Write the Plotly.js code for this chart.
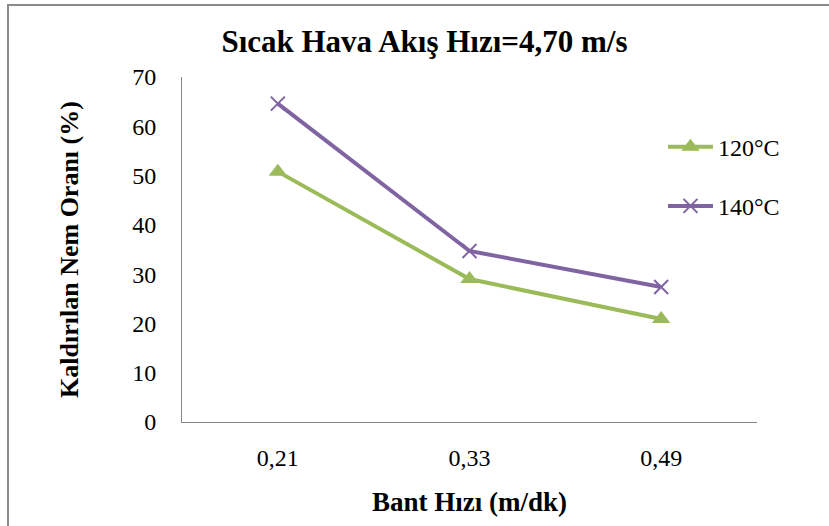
<!DOCTYPE html>
<html>
<head>
<meta charset="utf-8">
<script src="https://cdn.plot.ly/plotly-3.0.1.min.js"></script>
<style>
  html, body { margin: 0; padding: 0; background: #fff; overflow: hidden; }
  #frame { position: absolute; left: 7px; top: 4px; width: 840px; height: 540px; border: 2px solid #8a8a8a; box-sizing: border-box; }
  #chart { position: absolute; left: 0; top: 0; width: 829px; height: 526px; }
</style>
</head>
<body>
<div id="frame"></div>
<div id="chart"></div>
<script>
const categories = ['0,21', '0,33', '0,49'];
const series120 = [50.8, 29.0, 20.9];
const series140 = [64.6, 34.7, 27.4];
const seriesNames = ['120°C', '140°C'];
const yTicks = [0, 10, 20, 30, 40, 50, 60, 70];

const serif = 'Liberation Serif';

const traces = [
  {
    x: categories, y: series120, name: seriesNames[0], type: 'scatter', mode: 'lines+markers',
    legendgroup: 'a',
    line: { color: '#9BBB59', width: 4 },
    marker: { symbol: 'triangle-up', size: 16, color: '#9BBB59' }
  },
  {
    x: categories, y: series140, name: seriesNames[1], type: 'scatter', mode: 'lines+markers',
    legendgroup: 'b',
    line: { color: '#8064A2', width: 4 },
    marker: { symbol: 'x-thin', size: 14, color: '#8064A2', line: { color: '#8064A2', width: 2 } }
  }
];

const layout = {
  width: 829, height: 526,
  paper_bgcolor: 'rgba(0,0,0,0)', plot_bgcolor: 'rgba(0,0,0,0)',
  margin: { l: 182, r: 72, t: 77, b: 104 },
  font: { family: serif, color: '#000' },
  title: {
    text: '<b>Sıcak Hava Akış Hızı=4,70 m/s</b>',
    font: { family: serif, size: 31, color: '#000' },
    xref: 'container', yref: 'container', x: 0.512, y: 0.922, xanchor: 'center', yanchor: 'middle'
  },
  xaxis: {
    type: 'category', categoryorder: 'array', categoryarray: categories,
    range: [-0.5, 2.5],
    showline: true, linecolor: '#868686', linewidth: 1,
    showgrid: false, zeroline: false, ticks: '',
    tickfont: { family: serif, size: 24, color: '#000' },
    ticklabelstandoff: 14,
    title: { text: '<b>Bant Hızı (m/dk)</b>', font: { family: serif, size: 27, color: '#000' }, standoff: 22 },
    automargin: false, fixedrange: true
  },
  yaxis: {
    range: [0, 70], tickvals: yTicks,
    showline: true, linecolor: '#868686', linewidth: 1,
    showgrid: false, zeroline: false, ticks: '',
    tickfont: { family: serif, size: 24, color: '#000' },
    ticklabelstandoff: 20,
    title: { text: '<b>Kaldırılan Nem Oranı (%)</b>', font: { family: serif, size: 26, color: '#000' }, standoff: 46 },
    automargin: false, fixedrange: true
  },
  legend: {
    x: 0.8365, y: 0.862, xanchor: 'left', yanchor: 'top',
    bgcolor: 'rgba(0,0,0,0)', borderwidth: 0,
    font: { family: serif, size: 24, color: '#000' },
    tracegroupgap: 25, itemwidth: 45
  },
  showlegend: true
};

Plotly.newPlot('chart', traces, layout, { displayModeBar: false, staticPlot: true });
</script>
</body>
</html>
